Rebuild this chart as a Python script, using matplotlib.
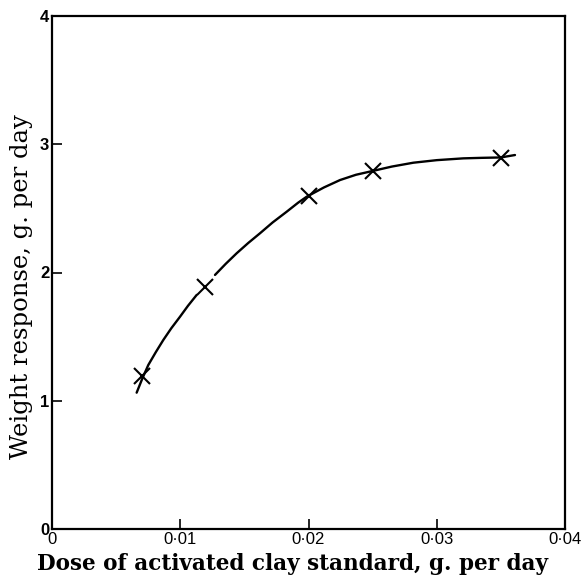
import matplotlib
matplotlib.use("Agg")
import matplotlib.pyplot as plt

# measured points (crosses)
dose = [0.0070, 0.0119, 0.0200, 0.0250, 0.0350]
response = [1.19, 1.89, 2.60, 2.79, 2.89]

# hand-drawn curve (two pieces, there is a gap)
curve1_x = [0.00660, 0.00705, 0.00751, 0.00810, 0.00868, 0.00930,
            0.00998, 0.01060, 0.01128]
curve1_y = [1.063, 1.175, 1.279, 1.380, 1.474, 1.565,
            1.655, 1.740, 1.825]
curve2_x = [0.01271, 0.01355, 0.01440, 0.01530, 0.01622, 0.01720,
            0.01830, 0.01920, 0.01986, 0.02120, 0.02246, 0.02370,
            0.02497, 0.02650, 0.02817, 0.03000, 0.03207, 0.03350,
            0.03499, 0.03610]
curve2_y = [1.981, 2.068, 2.150, 2.230, 2.306, 2.390,
            2.474, 2.545, 2.591, 2.663, 2.721, 2.762,
            2.791, 2.826, 2.856, 2.876, 2.890, 2.894,
            2.897, 2.916]

xticks = [0, 0.01, 0.02, 0.03, 0.04]
xticklabels = ['0', '0·01', '0·02', '0·03', '0·04']
yticks = [0, 1, 2, 3, 4]
yticklabels = ['0', '1', '2', '3', '4']

fig = plt.figure(figsize=(5.84, 5.77), dpi=100)
ax = fig.add_axes([52/584, 1-529/577, 513/584, 513/577])

ax.plot(curve1_x, curve1_y, color='black', lw=1.7, solid_capstyle='round',
        solid_joinstyle='round')
ax.plot(curve2_x, curve2_y, color='black', lw=1.7, solid_capstyle='round',
        solid_joinstyle='round')
ax.plot(dose, response, 'x', color='black', markersize=11, mew=1.5)

ax.set_xlim(0, 0.04)
ax.set_ylim(0, 4)
ax.set_xticks(xticks)
ax.set_xticklabels(xticklabels, family='Liberation Sans', fontsize=12)
ax.set_yticks(yticks)
ax.set_yticklabels(yticklabels, family='Liberation Sans', fontsize=12, weight='bold')
ax.tick_params(direction='in', length=7, width=1.2, pad=2)
for s in ax.spines.values():
    s.set_linewidth(1.6)

ax.set_xlabel('Dose of activated clay standard, g. per day', family='DejaVu Serif',
              fontsize=15.5, weight='bold')
ax.set_ylabel('Weight response, g. per day', family='DejaVu Serif', fontsize=17.5)
# the labels sit a bit off the axes centre in the original
ax.xaxis.set_label_coords(0.468, -0.046)
ax.yaxis.set_label_coords(-0.038, 0.472)

plt.savefig('out.png', dpi=100)
